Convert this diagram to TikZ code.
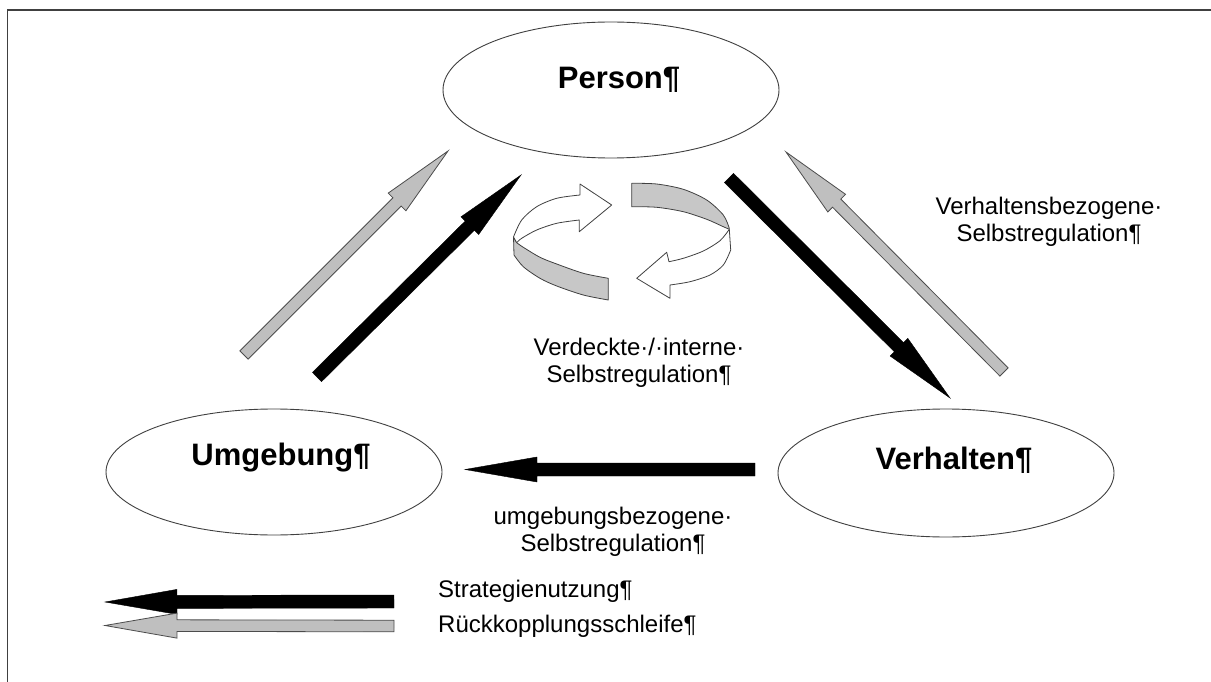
\documentclass[tikz,border=0pt]{standalone}
\usepackage{fontspec}
\setmainfont{Liberation Sans}
\usetikzlibrary{shapes.geometric,calc}

% block arrow: #1 style, #2 tail, #3 tip, #4 shaft half-width, #5 head half-width
\newcommand\blockarrow[5]{%
  \coordinate (ba) at ($(#3)!72pt!(#2)$);
  \path[#1] ($(#2)!#4!90:(#3)$) -- ($(ba)!#4!90:(#3)$) -- ($(ba)!#5!90:(#3)$)
    -- (#3) -- ($(ba)!#5!-90:(#3)$) -- ($(ba)!#4!-90:(#3)$)
    -- ($(#2)!#4!-90:(#3)$) -- cycle;
}

\tikzset{
  frameline/.style={draw=black!75, line width=1.4pt},
  oval/.style={ellipse, draw=black!75, line width=0.9pt, inner sep=0pt,
    minimum width=336pt},
  title/.style={font=\fontsize{31}{36}\selectfont\bfseries, anchor=base, inner sep=0pt},
  caption/.style={font=\fontsize{24}{27}\selectfont, align=center, anchor=base, inner sep=0pt},
  legendtext/.style={font=\fontsize{24}{27}\selectfont, anchor=base west, inner sep=0pt},
  solidarrow/.style={fill=black, draw=black, line width=0.4pt},
  palearrow/.style={fill=black!25, draw=black!70, line width=0.8pt},
  ribbonfront/.style={fill=black!22, draw=black!75, line width=0.8pt, line join=round},
  ribbonback/.style={fill=white, draw=black!75, line width=0.8pt, line join=round},
}

\begin{document}
\begin{tikzpicture}[x=1pt, y=-1pt]
\useasboundingbox (0,0) rectangle (1211,682);
\fill[white] (0,0) rectangle (1211,682);

% open frame on the left and top
\draw[frameline] (7.5,682) -- (7.5,10) -- (1211,10);

% the three ovals
\node[oval, minimum height=136pt] (person) at (611,90) {};
\node[oval, minimum height=126pt] (umgebung) at (274,472) {};
\node[oval, minimum height=128pt] (verhalten) at (946,473) {};

\node[title] (personlabel) at (619,89) {Person¶};
\node[title] (umgebunglabel) at (281,465) {Umgebung¶};
\node[title] (verhaltenlabel) at (954,469) {Verhalten¶};

% arrow end points
\coordinate (lgtail) at (244,355);  \coordinate (lgtip) at (448,151);
\coordinate (lbtail) at (317,377);  \coordinate (lbtip) at (521,175);
\coordinate (rbtail) at (729,178);  \coordinate (rbtip) at (950,398);
\coordinate (rgtail) at (1004,372); \coordinate (rgtip) at (786,152);
\coordinate (mbtail) at (755,469.5); \coordinate (mbtip) at (465,469.5);
\coordinate (kbtail) at (394,601.5); \coordinate (kbtip) at (105,602);
\coordinate (kgtail) at (394,626);   \coordinate (kgtip) at (105,625.5);

\blockarrow{palearrow}{lgtail}{lgtip}{5.8pt}{12.5pt}
\blockarrow{solidarrow}{lbtail}{lbtip}{6.5pt}{12.5pt}
\blockarrow{solidarrow}{rbtail}{rbtip}{6.5pt}{12.5pt}
\blockarrow{palearrow}{rgtail}{rgtip}{5.8pt}{12.5pt}
\blockarrow{solidarrow}{mbtail}{mbtip}{6.5pt}{12.5pt}
\blockarrow{solidarrow}{kbtail}{kbtip}{6.5pt}{12.5pt}
\blockarrow{palearrow}{kgtail}{kgtip}{5.8pt}{12.5pt}

% circular ribbon arrows in the middle
% left ribbon: front band
\path[ribbonfront] plot[smooth] coordinates {(516.7,242.7) (523.3,247.3) (540,257.3) (556.7,264) (583.3,273.3) (608.3,278.3)}
  -- (608.3,300)
  -- plot[smooth] coordinates {(608.3,300) (583.3,295) (556.7,286) (540,278.3) (523.3,266.7) (514,255)}
  -- (513.5,237) -- cycle;
% left ribbon: back band with head
\path[ribbonback] (580,184) -- (611.7,205) -- (579.3,231.7) -- (579.3,220)
  -- plot[smooth] coordinates {(579.3,220) (556.7,223.3) (536.7,230) (521.7,238.3) (516.7,242.7)}
  -- (513.5,237)
  -- plot[smooth] coordinates {(513.5,237) (521.7,220) (536.7,206.7) (556.7,198.3) (580,195)}
  -- cycle;
% right ribbon: back band
\path[ribbonfront] plot[smooth] coordinates {(631.7,183.3) (656.7,184) (683.3,189.3) (706.7,200) (723.3,215) (729.3,228.3)}
  -- (729.3,229.3)
  -- plot[smooth] coordinates {(729.3,229.3) (723.3,226.7) (706.7,219.3) (683.3,211.7) (656.7,207.3) (631.7,206.7)}
  -- cycle;
% right ribbon: front band with head
\path[ribbonback] plot[smooth] coordinates {(729.3,229.3) (720,240.7) (703.3,251) (683.3,258.3) (669,261.7)}
  -- (666.7,252.3) -- (636.7,278.3) -- (670,298.3) -- (670,285)
  -- plot[smooth] coordinates {(670,285) (690,281.7) (710,275) (723.3,265) (730.7,250)}
  -- cycle;

% captions (anchored at the baseline of their second line)
\node[caption] (capright) at (1049,241) {Verhaltensbezogene·\\Selbstregulation¶};
\node[caption] (capmid) at (639,382) {Verdeckte·/·interne·\\Selbstregulation¶};
\node[caption] (capbottom) at (613,551) {umgebungsbezogene·\\Selbstregulation¶};

% legend
\node[legendtext] (legstrat) at (438,597) {Strategienutzung¶};
\node[legendtext] (legloop) at (438,632.7) {Rückkopplungsschleife¶};
\end{tikzpicture}
\end{document}
